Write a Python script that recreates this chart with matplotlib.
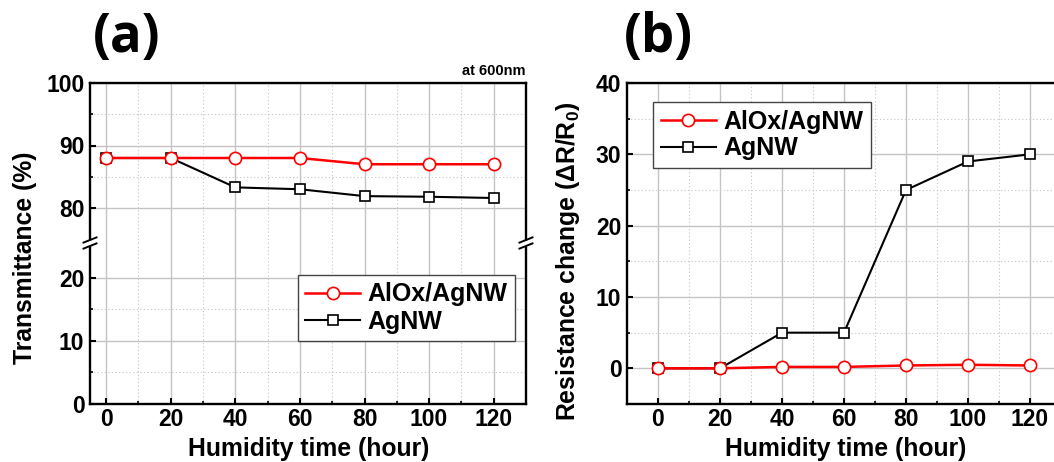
import matplotlib
matplotlib.use("Agg")
import matplotlib.pyplot as plt
from matplotlib.lines import Line2D
from matplotlib.ticker import FixedLocator

# ---------------- data ----------------
hours = [0, 20, 40, 60, 80, 100, 120]
trans_alox = [88.0, 88.0, 88.0, 88.0, 87.0, 87.0, 87.0]
trans_agnw = [88.0, 88.0, 83.3, 83.0, 81.9, 81.8, 81.6]
res_alox = [0.0, 0.0, 0.2, 0.2, 0.4, 0.5, 0.4]
res_agnw = [0.0, 0.0, 5.0, 5.0, 25.0, 29.0, 30.0]
series_names = ["AlOx/AgNW", "AgNW"]
x_ticks = [0, 20, 40, 60, 80, 100, 120]

plt.rcParams['font.family'] = ['Liberation Sans', 'DejaVu Sans']
plt.rcParams['font.weight'] = 'bold'
plt.rcParams['mathtext.fontset'] = 'custom'
plt.rcParams['mathtext.rm'] = 'Liberation Sans:bold'
plt.rcParams['mathtext.bf'] = 'Liberation Sans:bold'
plt.rcParams['mathtext.it'] = 'Liberation Sans:bold'

W, H = 1054, 462
fig = plt.figure(figsize=(W / 100, H / 100), dpi=100)


def fx(px):
    return px / W


def fy(py):
    return 1 - py / H


TICK_FS = 16.5
LABEL_FS = 17.8
SPINE_W = 1.7
MAJ_GRID = dict(color='#c4c4c4', linewidth=1.0, linestyle='-')
MIN_GRID = dict(color='#cccccc', linewidth=0.8, linestyle=(0, (1.2, 2.0)))


def style(ax, show_x=True):
    for s in ax.spines.values():
        s.set_linewidth(SPINE_W)
        s.set_color('black')
    ax.tick_params(which='major', direction='in', length=4.5, width=1.5,
                   labelsize=TICK_FS, pad=4.0, top=False, right=False)
    ax.tick_params(which='minor', direction='in', length=2.5, width=1.2,
                   top=False, right=False)
    ax.tick_params(axis='x', pad=3.0)
    for lab in ax.get_xticklabels() + ax.get_yticklabels():
        lab.set_fontweight('bold')
    ax.grid(True, which='major', **MAJ_GRID)
    ax.grid(True, which='minor', **MIN_GRID)
    ax.set_axisbelow(True)
    if not show_x:
        ax.tick_params(axis='x', which='both', bottom=False, labelbottom=False)


red_kw = dict(color='red', linewidth=1.8, marker='o', markersize=8.8,
              markerfacecolor='white', markeredgecolor='red', markeredgewidth=1.2, zorder=4)
blk_kw = dict(color='black', linewidth=1.5, marker='s', markersize=7.4,
              markerfacecolor='white', markeredgecolor='black', markeredgewidth=1.2, zorder=3)

# ---------------- panel (a) : broken axis ----------------
axT = fig.add_axes([fx(90), fy(243), fx(526) - fx(90), fy(83) - fy(243)])
axL = fig.add_axes([fx(90), fy(404), fx(526) - fx(90), fy(243) - fy(404)])

for ax in (axT, axL):
    ax.set_xlim(-5, 130)
    ax.xaxis.set_major_locator(FixedLocator(x_ticks))
    ax.xaxis.set_minor_locator(FixedLocator([10, 30, 50, 70, 90, 110, 130]))

axT.set_ylim(74.4, 100)
axT.yaxis.set_major_locator(FixedLocator([80, 90, 100]))
axT.yaxis.set_minor_locator(FixedLocator([85, 95]))
axL.set_ylim(0, 25.5)
axL.yaxis.set_major_locator(FixedLocator([0, 10, 20]))
axL.yaxis.set_minor_locator(FixedLocator([5, 15]))

axT.spines['bottom'].set_visible(False)
axL.spines['top'].set_visible(False)

style(axT, show_x=False)
style(axL)

hb_a, = axT.plot(hours, trans_agnw, label=series_names[1], **blk_kw)
ha_a, = axT.plot(hours, trans_alox, label=series_names[0], **red_kw)

leg_kw = dict(frameon=True, fancybox=False, edgecolor='#444444', framealpha=1,
              prop=dict(family='Liberation Sans', weight='bold', size=18),
              handlelength=2.2, handletextpad=0.3, labelspacing=0.12,
              borderpad=0.3, borderaxespad=0.0)
legA = axL.legend(handles=[ha_a, hb_a], loc='upper right',
                  bbox_to_anchor=((515 - 90) / 436, (404 - 275) / 161), **leg_kw)
legA.get_frame().set_linewidth(1.0)

fig.text(fx(526), fy(75), 'at 600nm', ha='right', va='baseline',
         fontsize=10.5, fontweight='bold')

# break marks
inv = fig.transFigure.inverted()


def fig_line(xs, ys, **kw):
    pts = inv.transform(list(zip(xs, ys)))
    fig.add_artist(Line2D(pts[:, 0], pts[:, 1], transform=fig.transFigure, **kw))


for xf in (0.0, 1.0):
    x0, y0 = axT.transAxes.transform((xf, 0.0))
    fig_line([x0, x0], [y0 - 3.0, y0 + 3.0], color='white', linewidth=3.5,
             solid_capstyle='butt', zorder=20)
    for dy in (-3.0, 3.0):
        fig_line([x0 - 6.5, x0 + 6.5], [y0 + dy - 2.6, y0 + dy + 2.6],
                 color='black', linewidth=1.4, zorder=21)

fig.text(fx(25), fy(258), 'Transmittance (%)', rotation=90, ha='center', va='center',
         fontsize=LABEL_FS, fontweight='bold')
fig.text(fx(309), fy(449), 'Humidity time (hour)', ha='center', va='center',
         fontsize=LABEL_FS, fontweight='bold')
fig.text(fx(127), fy(38), '(a)', ha='center', va='center', fontsize=38,
         fontweight='bold', family=['Open Sans', 'Liberation Sans'])

# ---------------- panel (b) ----------------
axB = fig.add_axes([fx(627), fy(404), fx(1061) - fx(627), fy(83) - fy(404)])
axB.set_xlim(-10, 130)
axB.set_ylim(-5, 40)
axB.xaxis.set_major_locator(FixedLocator(x_ticks))
axB.xaxis.set_minor_locator(FixedLocator([-10, 10, 30, 50, 70, 90, 110, 130]))
axB.yaxis.set_major_locator(FixedLocator([0, 10, 20, 30, 40]))
axB.yaxis.set_minor_locator(FixedLocator([-5, 5, 15, 25, 35]))
style(axB)

hb_b, = axB.plot(hours, res_agnw, label=series_names[1], **blk_kw)
ha_b, = axB.plot(hours, res_alox, label=series_names[0], **red_kw)
legB = axB.legend(handles=[ha_b, hb_b], loc='upper left',
                  bbox_to_anchor=((653 - 627) / 434, (404 - 102) / 321), **leg_kw)
legB.get_frame().set_linewidth(1.0)

fig.text(fx(568), fy(261), r'Resistance change (ΔR/R$_{\mathbf{0}}$)', rotation=90,
         ha='center', va='center', fontsize=LABEL_FS, fontweight='bold')
fig.text(fx(846), fy(449), 'Humidity time (hour)', ha='center', va='center',
         fontsize=LABEL_FS, fontweight='bold')
fig.text(fx(658), fy(38), '(b)', ha='center', va='center', fontsize=38,
         fontweight='bold', family=['Open Sans', 'Liberation Sans'])

fig.savefig('out.png', dpi=100)
